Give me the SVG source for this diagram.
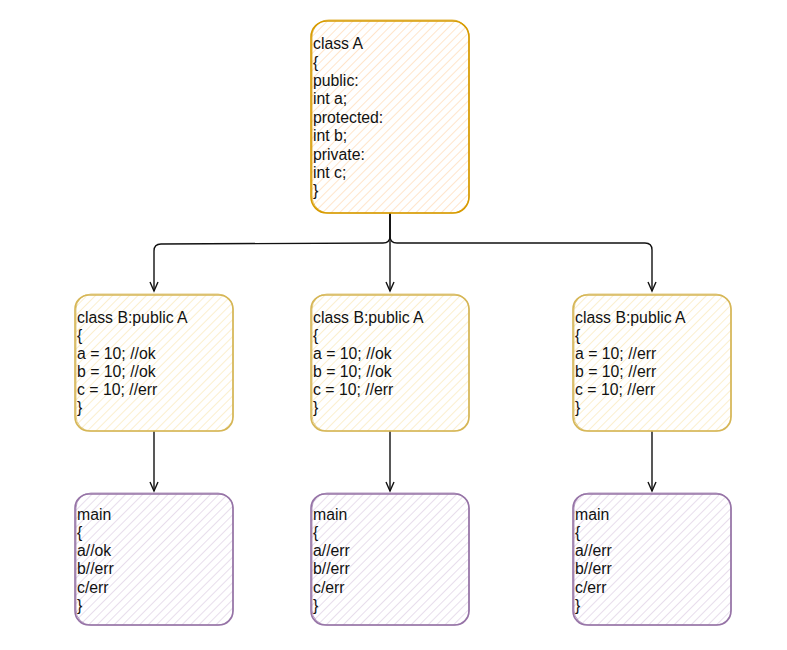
<svg xmlns="http://www.w3.org/2000/svg" width="787" height="650" viewBox="0 0 787 650">
<style>
text{font-family:"Liberation Sans",Arial,sans-serif;font-size:15.8px;fill:#111}
.a{stroke:#d79b00;stroke-width:1.6;fill:url(#hA)}
.a2{stroke:#d79b00;stroke-width:1;fill:none;opacity:.7}
.b{stroke:#d6b656;stroke-width:1.6;fill:url(#hB)}
.b2{stroke:#d6b656;stroke-width:1;fill:none;opacity:.7}
.m{stroke:#9673a6;stroke-width:1.6;fill:url(#hM)}
.m2{stroke:#9673a6;stroke-width:1;fill:none;opacity:.7}
.c{stroke:#111;stroke-width:1.4;fill:none;marker-end:url(#arr)}
</style>
<defs>
<pattern id="hA" width="6" height="6" patternUnits="userSpaceOnUse" patternTransform="rotate(45)"><line x1="0" y1="0" x2="0" y2="6" stroke="#ffd3a8" stroke-width="1.2"/></pattern>
<pattern id="hB" width="6" height="6" patternUnits="userSpaceOnUse" patternTransform="rotate(45)"><line x1="0" y1="0" x2="0" y2="6" stroke="#f9e4ad" stroke-width="1.2"/></pattern>
<pattern id="hM" width="6" height="6" patternUnits="userSpaceOnUse" patternTransform="rotate(45)"><line x1="0" y1="0" x2="0" y2="6" stroke="#d8c8e0" stroke-width="1.2"/></pattern>
<marker id="arr" markerWidth="12" markerHeight="12" refX="10" refY="5" orient="auto" markerUnits="userSpaceOnUse"><path d="M1,1 L10,5 L1,9" fill="none" stroke="#111" stroke-width="1.4"/></marker>
</defs>

<g id="connectors">
<path class="c" d="M390,213 L390,291"/>
<path class="c" d="M390,213 L390,236 Q390,243 383,243 L161,244 Q154,244 154,251 L154,291"/>
<path class="c" d="M390,213 L390,236 Q390,243 397,243 L645,243 Q652,243 652,250 L652,291"/>
<path class="c" d="M154,431 L154,491"/>
<path class="c" d="M390,431 L390,491"/>
<path class="c" d="M652,431 L652,491"/>
</g>

<g id="classA">
<rect class="a" x="311" y="21" width="158" height="192" rx="16"/>
<rect class="a2" x="312" y="20" width="157" height="193" rx="17"/>
<text x="313" y="49">class A</text>
<text x="313" y="68">{</text>
<text x="313" y="86">public:</text>
<text x="313" y="104">int a;</text>
<text x="313" y="123">protected:</text>
<text x="313" y="141">int b;</text>
<text x="313" y="160">private:</text>
<text x="313" y="178">int c;</text>
<text x="313" y="196">}</text>
</g>

<g id="classB1">
<rect class="b" x="75" y="295" width="158" height="136" rx="14"/>
<rect class="b2" x="76" y="294" width="157" height="137" rx="15"/>
<text x="77" y="323">class B:public A</text>
<text x="77" y="341">{</text>
<text x="77" y="359">a = 10; //ok</text>
<text x="77" y="377">b = 10; //ok</text>
<text x="77" y="395">c = 10; //err</text>
<text x="77" y="413">}</text>
</g>

<g id="classB2">
<rect class="b" x="311" y="295" width="158" height="136" rx="14"/>
<rect class="b2" x="312" y="294" width="157" height="137" rx="15"/>
<text x="313" y="323">class B:public A</text>
<text x="313" y="341">{</text>
<text x="313" y="359">a = 10; //ok</text>
<text x="313" y="377">b = 10; //ok</text>
<text x="313" y="395">c = 10; //err</text>
<text x="313" y="413">}</text>
</g>

<g id="classB3">
<rect class="b" x="573" y="295" width="158" height="136" rx="14"/>
<rect class="b2" x="574" y="294" width="157" height="137" rx="15"/>
<text x="575" y="323">class B:public A</text>
<text x="575" y="341">{</text>
<text x="575" y="359">a = 10; //err</text>
<text x="575" y="377">b = 10; //err</text>
<text x="575" y="395">c = 10; //err</text>
<text x="575" y="413">}</text>
</g>

<g id="main1">
<rect class="m" x="75" y="494" width="158" height="131" rx="14"/>
<rect class="m2" x="76" y="493" width="157" height="132" rx="15"/>
<text x="77" y="520">main</text>
<text x="77" y="538">{</text>
<text x="77" y="556">a//ok</text>
<text x="77" y="574">b//err</text>
<text x="77" y="593">c/err</text>
<text x="77" y="611">}</text>
</g>

<g id="main2">
<rect class="m" x="311" y="494" width="158" height="131" rx="14"/>
<rect class="m2" x="312" y="493" width="157" height="132" rx="15"/>
<text x="313" y="520">main</text>
<text x="313" y="538">{</text>
<text x="313" y="556">a//err</text>
<text x="313" y="574">b//err</text>
<text x="313" y="593">c/err</text>
<text x="313" y="611">}</text>
</g>

<g id="main3">
<rect class="m" x="573" y="494" width="158" height="131" rx="14"/>
<rect class="m2" x="574" y="493" width="157" height="132" rx="15"/>
<text x="575" y="520">main</text>
<text x="575" y="538">{</text>
<text x="575" y="556">a//err</text>
<text x="575" y="574">b//err</text>
<text x="575" y="593">c/err</text>
<text x="575" y="611">}</text>
</g>
</svg>
